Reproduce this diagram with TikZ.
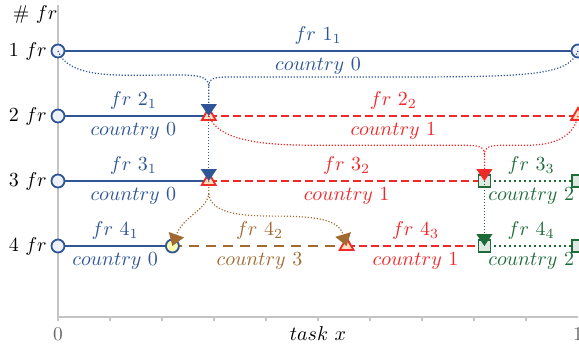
\documentclass[tikz,border=0pt]{standalone}
\usepackage{amsmath}
\usetikzlibrary{arrows.meta,shapes.geometric,backgrounds}
\definecolor{frblue}{HTML}{2F5597}
\definecolor{frred}{HTML}{F02828}
\definecolor{frgreen}{HTML}{1E6B3A}
\definecolor{frbrown}{HTML}{A06A32}
\definecolor{axisgray}{HTML}{C4C4C4}

\begin{document}
\begin{tikzpicture}[x=260pt, y=32.5pt, font=\fontsize{9.7}{11}\selectfont,
  circ/.style={circle, draw=frblue, fill=frblue!8, line width=0.9pt, minimum size=6.5pt, inner sep=0pt},
  tri/.style={regular polygon, regular polygon sides=3, draw=frred, fill=orange!25, line width=0.9pt, minimum size=8pt, inner sep=0pt},
  sq/.style={rectangle, draw=frgreen, fill=frgreen!15, line width=0.9pt, minimum size=6pt, inner sep=0pt},
  seg0/.style={frblue, line width=1.4pt},
  seg1/.style={frred, line width=1.4pt, dash pattern=on 4pt off 2pt},
  seg2/.style={frgreen, line width=1.1pt, dash pattern=on 1pt off 1.5pt},
  seg3/.style={frbrown, line width=1.4pt, dash pattern=on 5pt off 3.5pt},
  link/.style={line width=0.6pt, dash pattern=on 0.6pt off 0.9pt},
  tip/.style={-{Triangle[width=8pt,length=6pt]}},
  top/.style={midway, yshift=8pt},
  bot/.style={midway, yshift=-7.5pt}]
  \useasboundingbox (-0.1115,-0.2154) rectangle (1.0019,-5.4923);

  % Axes
  \draw[axisgray, line width=0.8pt] (0,-0.292) -- (0,-5.092) -- (1,-5.092);
  \foreach \t in {0,0.1,...,1}
    \draw[axisgray, line width=0.6pt] (\t,-5.092) -- ++(0,-2pt);
  \node[text=gray!80!black] (x0) at (0,-5.36) {0};
  \node[text=gray!80!black] (x1) at (1,-5.36) {1};
  \node (xlab) at (0.5,-5.34) {$task\ x$};
  \node (ylab) at (-0.044,-0.446) {$\#\ fr$};
  \foreach \r in {1,...,4}
    \node (lab\r) at (-0.058,-\r) {$\r\ fr$};

  % Markers
  \node[circ] (a1) at (0,-1) {};
  \node[circ] (b1) at (1,-1) {};
  \node[circ] (a2) at (0,-2) {};
  \node[tri]  (b2) at (0.29,-2) {};
  \node[tri]  (c2) at (1,-2) {};
  \node[circ] (a3) at (0,-3) {};
  \node[tri]  (b3) at (0.29,-3) {};
  \node[sq]   (c3) at (0.82,-3) {};
  \node[sq]   (d3) at (1,-3) {};
  \node[circ] (a4) at (0,-4) {};
  \node[circ, fill=yellow!30] (b4) at (0.22,-4) {};
  \node[tri]  (c4) at (0.555,-4) {};
  \node[sq]   (d4) at (0.82,-4) {};
  \node[sq]   (e4) at (1,-4) {};

  % Row segments
  \begin{pgfonlayer}{background}
    \draw[seg0] (a1.center) -- node[top]{$fr\ 1_1$} node[bot]{$country\ 0$} (b1.center);
    \draw[seg0] (a2.center) -- node[top]{$fr\ 2_1$} node[bot]{$country\ 0$} (b2.center);
    \draw[seg1] (b2.center) -- node[top]{$fr\ 2_2$} node[bot]{$country\ 1$} (c2.center);
    \draw[seg0] (a3.center) -- node[top]{$fr\ 3_1$} node[bot]{$country\ 0$} (b3.center);
    \draw[seg1] (b3.center) -- node[top]{$fr\ 3_2$} node[bot]{$country\ 1$} (c3.center);
    \draw[seg2] (c3.center) -- node[top]{$fr\ 3_3$} node[bot]{$country\ 2$} (d3.center);
    \draw[seg0] (a4.center) -- node[top]{$fr\ 4_1$} node[bot]{$country\ 0$} (b4.center);
    \draw[seg3] (b4.center) -- node[top]{$fr\ 4_2$} node[bot]{$country\ 3$} (c4.center);
    \draw[seg1] (c4.center) -- node[top]{$fr\ 4_3$} node[bot]{$country\ 1$} (d4.center);
    \draw[seg2] (d4.center) -- node[top]{$fr\ 4_4$} node[bot]{$country\ 2$} (e4.center);
  \end{pgfonlayer}

  % Splits
  \coordinate (j1) at (0.29,-1.55);
  \draw[link, frblue] (b1.center) .. controls (0.98,-1.4) and (0.9,-1.4) .. (0.6,-1.4)
    -- (0.33,-1.4) .. controls (0.3,-1.4) and (0.29,-1.42) .. (j1);
  \draw[link, tip, frblue] (a1.center) .. controls (0.02,-1.4) and (0.1,-1.38) .. (0.2,-1.37)
    .. controls (0.27,-1.36) and (0.29,-1.38) .. (j1) -- (b2.center);
  \draw[link, tip, frblue] (b2.center) -- (b3.center);

  \coordinate (j2) at (0.82,-2.6);
  \draw[link, frred] (c2.center) .. controls (0.99,-2.35) and (0.95,-2.45) .. (0.9,-2.45)
    -- (0.86,-2.45) .. controls (0.83,-2.45) and (0.82,-2.47) .. (j2);
  \draw[link, tip, frred] (b2.center) .. controls (0.31,-2.4) and (0.4,-2.45) .. (0.5,-2.45)
    -- (0.78,-2.45) .. controls (0.81,-2.45) and (0.82,-2.47) .. (j2) -- (c3.center);

  \coordinate (j3) at (0.29,-3.2);
  \draw[link, tip, frbrown] (b3.center) -- (j3) .. controls (0.285,-3.45) and (0.24,-3.55) .. (b4.center);
  \draw[link, tip, frbrown] (j3) .. controls (0.295,-3.5) and (0.35,-3.54) .. (0.42,-3.54)
    .. controls (0.5,-3.54) and (0.54,-3.6) .. (c4.center);
  \draw[link, tip, frgreen] (c3.center) -- (d4.center);
\end{tikzpicture}
\end{document}
